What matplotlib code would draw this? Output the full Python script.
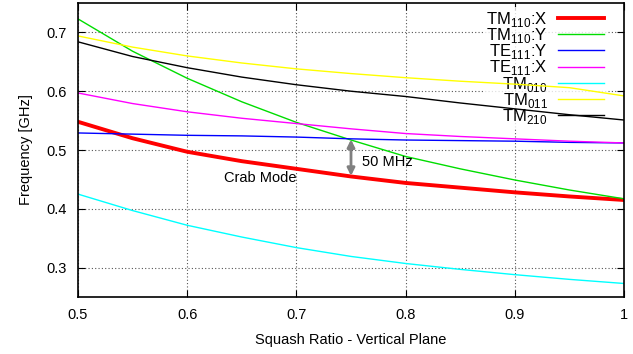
import matplotlib
matplotlib.use("Agg")
import matplotlib.pyplot as plt

plt.rcParams['font.family'] = ['Liberation Sans', 'DejaVu Sans']
plt.rcParams['mathtext.fontset'] = 'custom'
plt.rcParams['mathtext.rm'] = 'Liberation Sans'

# squash ratio samples
ratio = [0.5, 0.55, 0.6, 0.65, 0.7, 0.75, 0.8, 0.85, 0.9, 0.95, 1.0]

# mode frequencies [GHz]
tm110_x = [0.548, 0.520, 0.497, 0.481, 0.468, 0.455, 0.444, 0.436, 0.428, 0.421, 0.415]
tm110_y = [0.723, 0.668, 0.622, 0.582, 0.547, 0.517, 0.489, 0.468, 0.449, 0.432, 0.417]
te111_y = [0.529, 0.527, 0.525, 0.524, 0.522, 0.519, 0.517, 0.516, 0.515, 0.513, 0.512]
te111_x = [0.597, 0.579, 0.565, 0.554, 0.545, 0.536, 0.528, 0.523, 0.519, 0.515, 0.512]
tm010 = [0.425, 0.397, 0.372, 0.352, 0.334, 0.319, 0.307, 0.297, 0.288, 0.280, 0.273]
tm011 = [0.694, 0.675, 0.660, 0.648, 0.638, 0.630, 0.623, 0.617, 0.612, 0.606, 0.592]
tm210 = [0.684, 0.659, 0.640, 0.624, 0.611, 0.600, 0.591, 0.580, 0.570, 0.560, 0.551]

series = [
    (tm110_x, r'TM$_\mathregular{110}$:X', '#ff0000', 2.8),
    (tm110_y, r'TM$_\mathregular{110}$:Y', '#00dd00', 1.0),
    (te111_y, r'TE$_\mathregular{111}$:Y', '#0000ff', 1.0),
    (te111_x, r'TE$_\mathregular{111}$:X', '#ff00ff', 1.0),
    (tm010, r'TM$_\mathregular{010}$', '#00ffff', 1.0),
    (tm011, r'TM$_\mathregular{011}$', '#ffff00', 1.0),
    (tm210, r'TM$_\mathregular{210}$', '#000000', 1.0),
]

fig = plt.figure(figsize=(6.33, 3.54), dpi=100)
ax = fig.add_axes([0.1232, 0.161, 0.8626, 0.8305])
ax.set_axisbelow(True)

for vals, label, color, lw in series:
    ax.plot(ratio, vals, color=color, lw=lw, label=label, zorder=3)

ax.set_xlim(0.5, 1.0)
ax.set_ylim(0.25, 0.75)
ax.set_xticks([0.5, 0.6, 0.7, 0.8, 0.9, 1.0])
ax.set_xticklabels(['0.5', '0.6', '0.7', '0.8', '0.9', '1'])
ax.set_yticks([0.3, 0.4, 0.5, 0.6, 0.7])
ax.tick_params(direction='in', length=5, labelsize=10.5, pad=8, top=True, right=True)
ax.grid(True, color='#555555', linestyle=(0, (1, 2)), lw=0.8)
for s in ax.spines.values():
    s.set_linewidth(1.2)
    s.set_zorder(5)

ax.set_xlabel('Squash Ratio - Vertical Plane', fontsize=10.5, labelpad=8)
ax.set_ylabel('Frequency [GHz]', fontsize=10.5, labelpad=10)

# annotations
ax.annotate('', xy=(0.75, 0.456), xytext=(0.75, 0.518),
            arrowprops=dict(arrowstyle='<|-|>', color='#808080', lw=2,
                            mutation_scale=11, shrinkA=0, shrinkB=0), zorder=4)
ax.text(0.76, 0.48, '50 MHz', fontsize=10.5, va='center', ha='left')
ax.text(0.667, 0.452, 'Crab Mode', fontsize=10.5, va='center', ha='center')

leg = ax.legend(loc='upper right', bbox_to_anchor=(0.970, 0.988), markerfirst=False,
                frameon=True, fontsize=12, handlelength=2.8, labelspacing=-0.17,
                borderpad=0.2, handletextpad=0.6, borderaxespad=0, fancybox=False)
leg.get_frame().set_edgecolor('none')
leg.get_frame().set_facecolor('white')
leg.set_zorder(2)
for t in leg.get_texts():
    t.set_ha('right')

fig.savefig('out.png', dpi=100)
